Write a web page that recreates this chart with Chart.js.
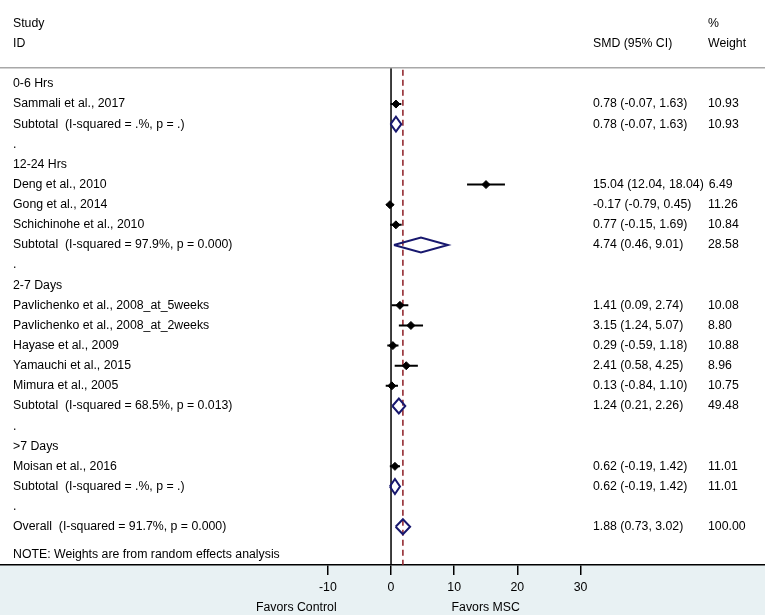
<!DOCTYPE html>
<html>
<head>
<meta charset="utf-8">
<script src="https://cdn.jsdelivr.net/npm/chart.js@4.4.1/dist/chart.umd.min.js"></script>
<style>
html,body{margin:0;padding:0;background:#fff;}
#wrap{width:765px;height:615px;position:relative;}
</style>
</head>
<body>
<div id="wrap"><canvas id="c" width="765" height="615"></canvas></div>
<script>
// ---- data ----
const rowLabels = [
  "0-6 Hrs",
  "Sammali et al., 2017",
  "Subtotal  (I-squared = .%, p = .)",
  ".",
  "12-24 Hrs",
  "Deng et al., 2010",
  "Gong et al., 2014",
  "Schichinohe et al., 2010",
  "Subtotal  (I-squared = 97.9%, p = 0.000)",
  ".",
  "2-7 Days",
  "Pavlichenko et al., 2008_at_5weeks",
  "Pavlichenko et al., 2008_at_2weeks",
  "Hayase et al., 2009",
  "Yamauchi et al., 2015",
  "Mimura et al., 2005",
  "Subtotal  (I-squared = 68.5%, p = 0.013)",
  ".",
  ">7 Days",
  "Moisan et al., 2016",
  "Subtotal  (I-squared = .%, p = .)",
  ".",
  "Overall  (I-squared = 91.7%, p = 0.000)"
];
const rowKinds = ["head","study","sub","gap","head","study","study","study","sub","gap","head","study","study","study","study","study","sub","gap","head","study","sub","gap","sub"];
const smd     = [null,0.78,0.78,null,null,15.04,-0.17,0.77,4.74,null,null,1.41,3.15,0.29,2.41,0.13,1.24,null,null,0.62,0.62,null,1.88];
const ciLow   = [null,-0.07,-0.07,null,null,12.04,-0.79,-0.15,0.46,null,null,0.09,1.24,-0.59,0.58,-0.84,0.21,null,null,-0.19,-0.19,null,0.73];
const ciHigh  = [null,1.63,1.63,null,null,18.04,0.45,1.69,9.01,null,null,2.74,5.07,1.18,4.25,1.10,2.26,null,null,1.42,1.42,null,3.02];
const weights = [null,10.93,10.93,null,null,6.49,11.26,10.84,28.58,null,null,10.08,8.80,10.88,8.96,10.75,49.48,null,null,11.01,11.01,null,100.00];
const overallSMD = 1.88;
const xTicks = [-10, 0, 10, 20, 30];
const headerStudy = ["Study", "ID"];
const headerSMD = "SMD (95% CI)";
const headerWeight = ["%", "Weight"];
const noteText = "NOTE: Weights are from random effects analysis";
const favorLeft = "Favors Control";
const favorRight = "Favors MSC";

// ---- build datasets ----
const studyPts = [], whisk = [], dia = [];
const DH = 0.37;
rowKinds.forEach((k, i) => {
  if (k === "study") {
    studyPts.push({x: smd[i], y: i});
    whisk.push({x: ciLow[i], y: i}, {x: ciHigh[i], y: i}, {x: null, y: null});
  } else if (k === "sub") {
    dia.push({x: ciLow[i], y: i}, {x: smd[i], y: i - DH}, {x: ciHigh[i], y: i},
             {x: smd[i], y: i + DH}, {x: ciLow[i], y: i}, {x: null, y: null});
  }
});

const FONT = "'Liberation Sans', Arial, sans-serif";
const FS = 12.3;

const textPlugin = {
  id: "forestText",
  beforeDraw(chart) {
    const ctx = chart.ctx;
    const ca = chart.chartArea;
    ctx.save();
    ctx.fillStyle = "rgb(232,241,243)";
    ctx.fillRect(0, ca.bottom, chart.width, chart.height - ca.bottom);
    ctx.restore();
  },
  afterDraw(chart) {
    const ctx = chart.ctx;
    const ys = chart.scales.y, xs = chart.scales.x;
    ctx.save();
    // header line
    ctx.strokeStyle = "#a8a8a8";
    ctx.lineWidth = 1.5;
    const hy = ys.getPixelForValue(-0.8);
    ctx.beginPath(); ctx.moveTo(0, hy); ctx.lineTo(chart.width, hy); ctx.stroke();

    ctx.fillStyle = "#000";
    ctx.font = FS + "px " + FONT;
    ctx.textBaseline = "middle";
    ctx.textAlign = "left";
    const xL = 13, xS = 593, xW = 708;
    ctx.fillText(headerStudy[0], xL, ys.getPixelForValue(-3));
    ctx.fillText(headerStudy[1], xL, ys.getPixelForValue(-2));
    ctx.fillText(headerSMD, xS, ys.getPixelForValue(-2));
    ctx.fillText(headerWeight[0], xW, ys.getPixelForValue(-3));
    ctx.fillText(headerWeight[1], xW, ys.getPixelForValue(-2));
    rowLabels.forEach((t, i) => {
      const y = ys.getPixelForValue(i);
      ctx.fillText(t, xL, y);
      if (smd[i] !== null) {
        const s = smd[i].toFixed(2) + " (" + ciLow[i].toFixed(2) + ", " + ciHigh[i].toFixed(2) + ")";
        ctx.fillText(s, xS, y);
        const w = ctx.measureText(s).width;
        ctx.fillText(weights[i].toFixed(2), Math.max(xW, xS + w + 5), y);
      }
    });
    ctx.fillText(noteText, xL, ys.getPixelForValue(23.38));
    ctx.textAlign = "center";
    const fy = 608;
    ctx.fillText(favorLeft, xs.getPixelForValue(-15), fy);
    ctx.fillText(favorRight, xs.getPixelForValue(15), fy);
    ctx.restore();
  }
};

new Chart(document.getElementById("c"), {
  type: "scatter",
  data: {
    datasets: [
      { data: [{x: 0, y: -0.8}, {x: 0, y: 23.9}], showLine: true, borderColor: "#000", borderWidth: 1.5, pointRadius: 0, order: 5 },
      { data: [{x: overallSMD, y: -0.7}, {x: overallSMD, y: 23.9}], showLine: true, borderColor: "rgb(140,28,36)", borderWidth: 1.5, borderDash: [6, 4], pointRadius: 0, order: 4 },
      { data: whisk, showLine: true, spanGaps: false, borderColor: "#000", borderWidth: 2, pointRadius: 0, order: 3 },
      { data: dia, showLine: true, spanGaps: false, borderColor: "rgb(24,24,110)", borderWidth: 2, pointRadius: 0, order: 2 },
      { data: studyPts, showLine: false, pointStyle: "rectRot", pointRadius: 4, pointBackgroundColor: "#000", pointBorderColor: "#000", pointBorderWidth: 1, order: 1 }
    ]
  },
  options: {
    responsive: false,
    animation: false,
    devicePixelRatio: 1,
    layout: { padding: 0, autoPadding: false },
    plugins: { legend: { display: false }, tooltip: { enabled: false } },
    elements: { line: { tension: 0 } },
    scales: {
      x: {
        type: "linear",
        min: -61.92, max: 59.22,
        afterBuildTicks(scale) { scale.ticks = xTicks.map(v => ({value: v})); },
        afterFit(scale) { scale.height = 50; },
        grid: { display: true, drawOnChartArea: false, drawTicks: true, tickLength: 10, color: "#000", lineWidth: 1.5 },
        border: { display: true, color: "#000", width: 1.5 },
        ticks: { color: "#000", font: { size: FS, family: FONT }, padding: 5, maxRotation: 0, autoSkip: false }
      },
      y: {
        type: "linear", display: false, reverse: true,
        min: -4.17, max: 23.9
      }
    }
  },
  plugins: [textPlugin]
});
</script>
</body>
</html>
